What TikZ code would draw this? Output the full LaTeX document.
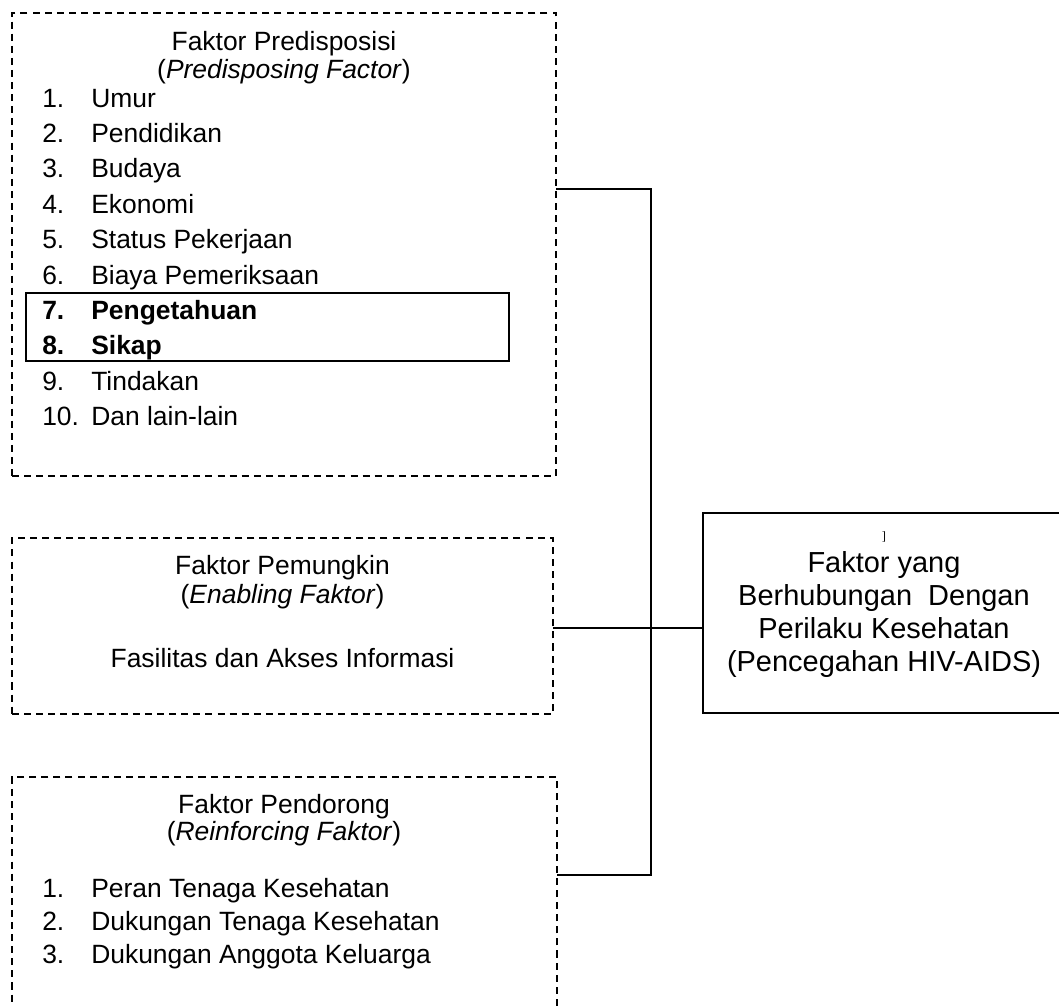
\documentclass[tikz,border=0pt]{standalone}
\usepackage{fontspec}
\setmainfont{Liberation Sans}
\newfontfamily\kurung{Liberation Serif}
\usepackage{tikz}
\usetikzlibrary{positioning}
\tikzset{
  faktorbox/.style={draw, line width=1.2pt, dash pattern=on 5pt off 3.6pt, minimum width=#1, inner sep=0pt, outer sep=0pt},
  hasilbox/.style={draw, line width=1.4pt, inner sep=0pt, outer sep=0pt},
  teks/.style={inner sep=0pt, anchor=base, font=\fontsize{18.8pt}{22pt}\selectfont},
  butir/.style={inner sep=0pt, anchor=base west, font=\fontsize{18.8pt}{22pt}\selectfont},
  teksbesar/.style={inner sep=0pt, anchor=base, font=\fontsize{20.6pt}{24pt}\selectfont},
  garis/.style={line width=1.3pt}
}

\begin{document}
\begin{tikzpicture}[x=0.025cm, y=-0.025cm]
\useasboundingbox (0,0) rectangle (1059,1006);

% kotak faktor
\node[faktorbox=13.6cm, minimum height=11.575cm] (predis) at (284,244.5) {};
\node[faktorbox=13.525cm, minimum height=4.4cm] (enabling) at (282.5,626) {};
\node[faktorbox=13.625cm, minimum height=6cm] (reinforcing) at (284.5,897) {};
\node[hasilbox, minimum width=9.05cm, minimum height=5cm] (perilaku) at (884,613) {};
\node[hasilbox, line width=1.2pt, minimum width=12.075cm, minimum height=1.7cm] (sorot) at (267.5,327) {};

% faktor predisposisi
\node[teks] (judul1) at (284,50) {Faktor Predisposisi};
\node[teks] (sub1) at (284,78) {(\textit{Predisposing Factor})};
\node[butir] (n1) at (42,107) {1.};      \node[butir] (i1) at (91,107) {Umur};
\node[butir] (n2) at (42,142.4) {2.};    \node[butir] (i2) at (91,142.4) {Pendidikan};
\node[butir] (n3) at (42,177.8) {3.};    \node[butir] (i3) at (91,177.8) {Budaya};
\node[butir] (n4) at (42,213.2) {4.};    \node[butir] (i4) at (91,213.2) {Ekonomi};
\node[butir] (n5) at (42,248.6) {5.};    \node[butir] (i5) at (91,248.6) {Status Pekerjaan};
\node[butir] (n6) at (42,284) {6.};      \node[butir] (i6) at (91,284) {Biaya Pemeriksaan};
\node[butir] (n7) at (42,319.4) {\textbf{7.}};  \node[butir] (i7) at (91,319.4) {\textbf{Pengetahuan}};
\node[butir] (n8) at (42,354.8) {\textbf{8.}};  \node[butir] (i8) at (91,354.8) {\textbf{Sikap}};
\node[butir] (n9) at (42,390.2) {9.};    \node[butir] (i9) at (91,390.2) {Tindakan};
\node[butir] (n10) at (42,425.6) {10.};  \node[butir] (i10) at (91,425.6) {Dan lain-lain};

% faktor pemungkin
\node[teks] (judul2) at (282.5,574) {Faktor Pemungkin};
\node[teks] (sub2) at (282.5,603) {(\textit{Enabling Faktor})};
\node[teks] (fasilitas) at (282.5,667) {Fasilitas dan Akses Informasi};

% faktor pendorong
\node[teks] (judul3) at (284,813) {Faktor Pendorong};
\node[teks] (sub3) at (284,840) {(\textit{Reinforcing Faktor})};
\node[butir] (m1) at (42,897) {1.};  \node[butir] (j1) at (91,897) {Peran Tenaga Kesehatan};
\node[butir] (m2) at (42,930) {2.};  \node[butir] (j2) at (91,930) {Dukungan Tenaga Kesehatan};
\node[butir] (m3) at (42,963) {3.};  \node[butir] (j3) at (91,963) {Dukungan Anggota Keluarga};

% hasil
\node[inner sep=0pt, anchor=base, font=\kurung\fontsize{9pt}{10pt}\selectfont] (kurung) at (884,540) {]};
\node[teksbesar] (h1) at (884,572) {Faktor yang};
\node[teksbesar] (h2) at (884,605) {Berhubungan\ \ Dengan};
\node[teksbesar] (h3) at (884,638) {Perilaku Kesehatan};
\node[teksbesar] (h4) at (884,671) {(Pencegahan HIV-AIDS)};

% garis penghubung
\coordinate (atas) at (651,189);
\coordinate (tengah) at (651,628);
\coordinate (bawah) at (651,875);
\draw[garis] (predis.east |- atas) -- (atas) -- (bawah) -- (reinforcing.east |- bawah);
\draw[garis] (enabling.east |- tengah) -- (perilaku.west |- tengah);
\end{tikzpicture}
\end{document}
